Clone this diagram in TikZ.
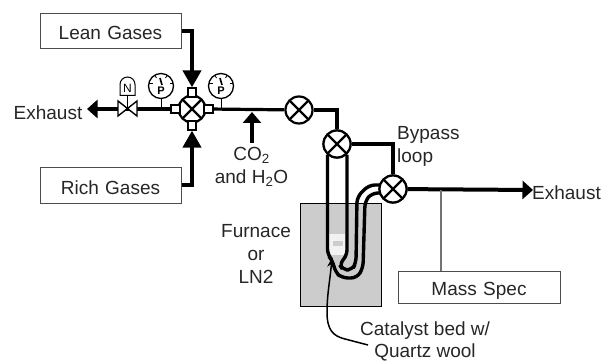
\documentclass[tikz,border=0pt]{standalone}
\usepackage{fontspec}
\setmainfont{Liberation Sans}
\usetikzlibrary{positioning, arrows.meta}
\tikzset{
	pipe/.style={
		draw=black,
		line width=3.2pt
	},
	tube/.style={
		draw=black,
		line width=3.4pt,
		rounded corners=6pt
	},
	feed/.style={
		draw=black,
		line width=4pt,
		-{Triangle[length=17pt,width=18pt]}
	},
	vent/.style={
		draw=black,
		line width=4pt,
		-{Triangle[length=10.5pt,width=18pt]}
	},
	label/.style={
		text=black!85,
		font=\fontsize{19pt}{23pt}\selectfont,
		align=center,
		inner sep=0pt
	},
	gasbox/.style={
		draw=black!70,
		line width=1pt,
		fill=white,
		inner sep=0pt,
		label
	},
	valve/.style={
		draw=black,
		line width=2.2pt,
		fill=white,
		circle,
		inner sep=0pt,
		minimum size=27pt,
		path picture={
			\draw[line width=2.2pt] (path picture bounding box.north west) -- (path picture bounding box.south east);
			\draw[line width=2.2pt] (path picture bounding box.north east) -- (path picture bounding box.south west);
		}
	},
	port/.style={
		draw=black,
		line width=1.8pt,
		fill=white,
		rectangle,
		inner sep=0pt,
		minimum size=8.5pt
	},
	gauge/.style={
		draw=black,
		line width=1.3pt,
		fill=white,
		circle,
		inner sep=0pt,
		minimum size=25pt,
		path picture={
			\node[inner sep=0pt,font=\fontsize{11pt}{11pt}\selectfont\bfseries] at ([yshift=-5pt]path picture bounding box.center) {P};
			\draw[line width=1.6pt] ([xshift=1pt,yshift=1pt]path picture bounding box.center) -- ++(-2pt,7pt);
			\draw[line width=0.8pt] ([xshift=-12.5pt,yshift=3pt]path picture bounding box.center) -- ++(4pt,0pt);
			\draw[line width=0.8pt] ([xshift=12.5pt,yshift=3pt]path picture bounding box.center) -- ++(-4pt,0pt);
			\draw[line width=0.8pt] ([xshift=-6pt,yshift=10.5pt]path picture bounding box.center) -- ++(1.5pt,-2.5pt);
			\draw[line width=0.8pt] ([xshift=6pt,yshift=10.5pt]path picture bounding box.center) -- ++(-1.5pt,-2.5pt);
		}
	}
}
\begin{document}
\begin{tikzpicture}[x=1pt,y=-1pt]
\useasboundingbox (0,0) rectangle (601,363);

% Furnace
\node[draw=black,line width=1pt,fill=black!20,minimum width=81pt,minimum height=103pt,inner sep=0pt] (Furnace) at (340.5,254.5) {};
\fill[black!5] (329,234) rectangle (345,255);
\fill[black!20] (333,241) rectangle (343,246);

% Boxes
\node[gasbox,text width=141pt,text height=25.5pt,text depth=9.5pt] (Lean) at (110.5,31.5) {Lean Gases};
\node[gasbox,text width=141pt,text height=26.5pt,text depth=8.5pt] (Rich) at (110.5,185.5) {Rich Gases};
\node[gasbox,text width=162pt,text height=24.5pt,text depth=7.5pt] (Spec) at (479,287) {Mass Spec};

% Valves
\node[valve] (Four) at (192,109) {};
\node[port] (PortN) at (192,92.5) {};
\node[port] (PortS) at (192,125.5) {};
\node[port] (PortW) at (175.5,109) {};
\node[port] (PortE) at (208.5,109) {};
\node[valve] (Mid) at (299,110) {};
\node[valve] (Top) at (337,144) {};
\node[valve] (Byp) at (393,189) {};
\node[inner sep=0pt,minimum size=1pt] (Needle) at (127.5,109) {};

% Pipes
\coordinate (ExL) at (87,109);
\coordinate (ExR) at (533,190);
\draw[vent] (PortW) -- (ExL);
\draw[pipe] (PortE) -- (Mid);
\draw[pipe] (Mid) -| (Top);
\draw[pipe] (Top) -| (Byp);
\draw[vent] (Byp) -- (ExR);
\draw[draw=black!55,line width=1.3pt] (441,190) -- (441,271);
\draw[line width=1.4pt,fill=white] (118,101) -- (137,116) -- (137,101) -- (118,116) -- cycle;

% Furnace tubing
\draw[tube] (381,185) -- (369,185) -- (357,197) -- (356,263) -- (352,270) -- (343,270) -- (339,264) -- (347,256) -- (347,155);
\draw[tube] (381,193) -- (372,193) -- (365,201) -- (363,268) -- (357,278) -- (342,278) -- (335,272) -- (333,261) -- (327.5,255) -- (327.5,155);
\node[valve] at (Top) {};
\node[valve] at (Byp) {};

% Feeds
\draw[feed] (Lean.east) -| (PortN);
\draw[feed] (Rich.east) -| (PortS);
\coordinate (CoTip) at (252,112);
\coordinate (CoEnd) at (252,143);
\draw[draw=black,line width=4pt,-{Triangle[length=11pt,width=18pt]}] (CoEnd) -- (CoTip);

% Gauges
\node[gauge] (GaugeL) at (161,86) {};
\node[gauge] (GaugeR) at (221,86) {};
\draw[line width=1pt] (GaugeL) -- (161,109);
\draw[line width=1pt] (GaugeR) -- (221,109);
\draw[line width=1pt,fill=white] (120,95.5) -- (120,84.5) arc[start angle=180,end angle=360,radius=7.5] -- (135,95.5) -- cycle;
\node[inner sep=0pt,font=\fontsize{12pt}{12pt}\selectfont] (NBox) at (127.5,88) {N};
\draw[line width=1pt] (127.5,95.5) -- (Needle);

% Catalyst pointer
\coordinate (CatEnd) at (368,345);
\coordinate (CatTip) at (332,258);
\draw[line width=1.5pt,-{Stealth[length=9pt,width=8pt]}] (CatEnd) -- (345,339) .. controls (333,336) and (327,330) .. (327,312) .. controls (327,295) and (330,280) .. (CatTip);

% Labels
\node[label] (ExhL) at (48,112.5) {Exhaust};
\node[label] (ExhR) at (566.5,193) {Exhaust};
\node[label] (CoL) at (251.5,167) {CO\textsubscript{2}\\and H\textsubscript{2}O};
\node[label,align=left,anchor=west] (BypL) at (397,146) {Bypass\\loop};
\node[label] (FurL) at (256,254) {Furnace\\or\\LN2};
\node[label,font=\fontsize{19pt}{22pt}\selectfont] (CatL) at (425,341.5) {Catalyst bed w/\\Quartz wool};

\end{tikzpicture}
\end{document}
